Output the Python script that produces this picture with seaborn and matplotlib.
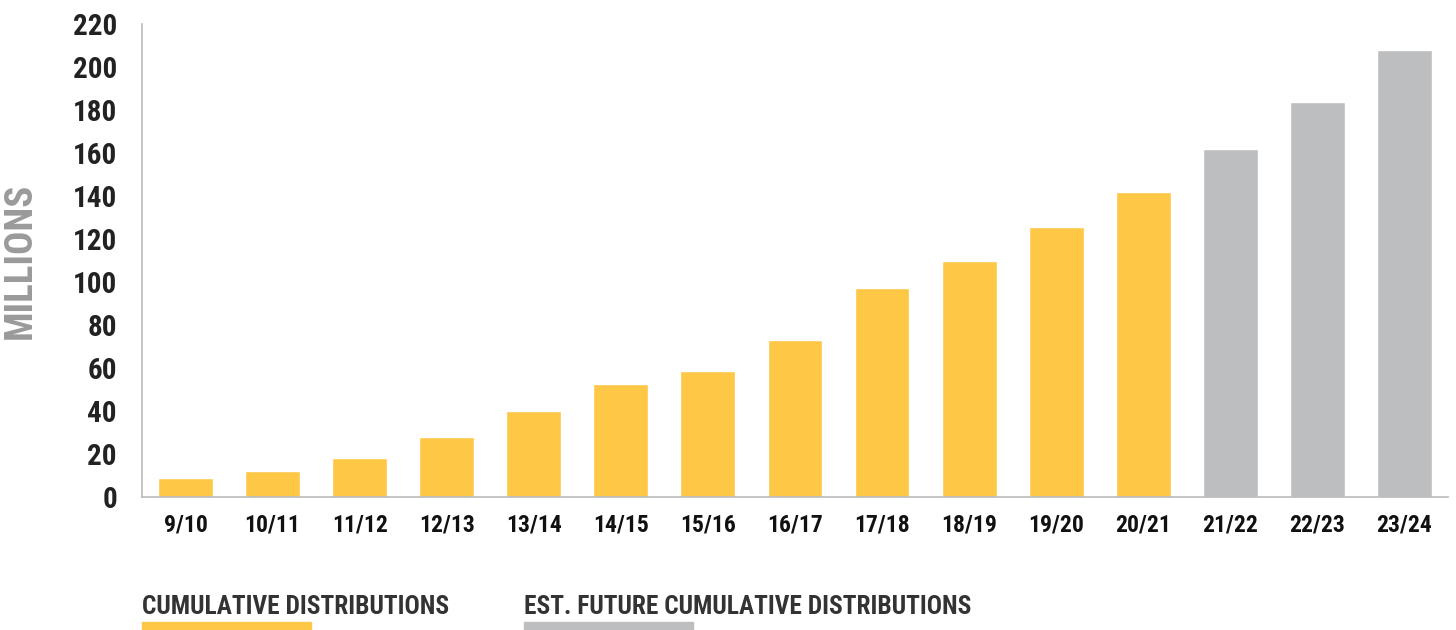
import matplotlib
matplotlib.use("Agg")
from matplotlib import pyplot as plt
from matplotlib.patches import Rectangle
import seaborn as sns
import pandas as pd
import numpy as np

# data (millions)
seasons = ['9/10', '10/11', '11/12', '12/13', '13/14', '14/15', '15/16', '16/17',
           '17/18', '18/19', '19/20', '20/21', '21/22', '22/23', '23/24']
distributions = [9, 12, 18, 28, 40, 52.5, 58.5, 73, 97, 110, 125.5, 142, 162, 183.5, 208]
status = ['CUMULATIVE DISTRIBUTIONS'] * 12 + ['EST. FUTURE CUMULATIVE DISTRIBUTIONS'] * 3
yticks = list(range(0, 221, 20))

colors = {'CUMULATIVE DISTRIBUTIONS': '#FEC745',
          'EST. FUTURE CUMULATIVE DISTRIBUTIONS': '#BDBEC0'}

df = pd.DataFrame({'season': seasons, 'value': distributions, 'status': status})

sns.set_style('white')
plt.rcParams['font.family'] = ['Roboto Condensed', 'Lato', 'DejaVu Sans']

fig = plt.figure(figsize=(14.56, 6.3), dpi=100)
ax = fig.add_axes([0.0975, 0.211, 0.897, 0.751])

sns.barplot(data=df, x='season', y='value', hue='status', palette=colors,
            dodge=False, width=0.63, saturation=1, legend=False, ax=ax)

ax.set_ylim(0, 220)
ax.set_xlim(-0.5, len(seasons) - 0.5)
ax.set_yticks(yticks)
ax.set_yticklabels([str(t) for t in yticks], fontsize=21, fontweight='bold', color='#222222')
ax.set_xticklabels(seasons, fontsize=17, fontweight='bold', color='#111111')
ax.tick_params(axis='x', length=0, pad=12)
ax.set_xticks(np.arange(-0.5, len(seasons), 1), minor=True)
ax.tick_params(axis='x', which='minor', length=10, width=1.2, color='#BBBBBB')
ax.tick_params(axis='y', length=10, width=1.2, color='#BBBBBB', pad=8, direction='out')

for s in ['top', 'right']:
    ax.spines[s].set_visible(False)
for s in ['left', 'bottom']:
    ax.spines[s].set_color('#BBBBBB')
    ax.spines[s].set_linewidth(1.2)

ax.set_xlabel('')
ax.set_ylabel('MILLIONS', fontsize=28, fontweight='black', color='#9A9A9A')
ax.yaxis.set_label_coords(-0.079, 0.5)

# legend drawn under the chart: label text with a coloured strip below
fig.text(0.0975, 0.025, 'CUMULATIVE DISTRIBUTIONS', fontsize=18.3, fontweight='bold',
         color='#333333', ha='left', va='baseline')
fig.text(0.36, 0.025, 'EST. FUTURE CUMULATIVE DISTRIBUTIONS', fontsize=18.3, fontweight='bold',
         color='#333333', ha='left', va='baseline')
fig.patches.append(Rectangle((0.0975, 0.0), 0.116, 0.012, transform=fig.transFigure,
                             color=colors['CUMULATIVE DISTRIBUTIONS'], figure=fig))
fig.patches.append(Rectangle((0.36, 0.0), 0.116, 0.012, transform=fig.transFigure,
                             color=colors['EST. FUTURE CUMULATIVE DISTRIBUTIONS'], figure=fig))

fig.savefig('out.png', dpi=100)
